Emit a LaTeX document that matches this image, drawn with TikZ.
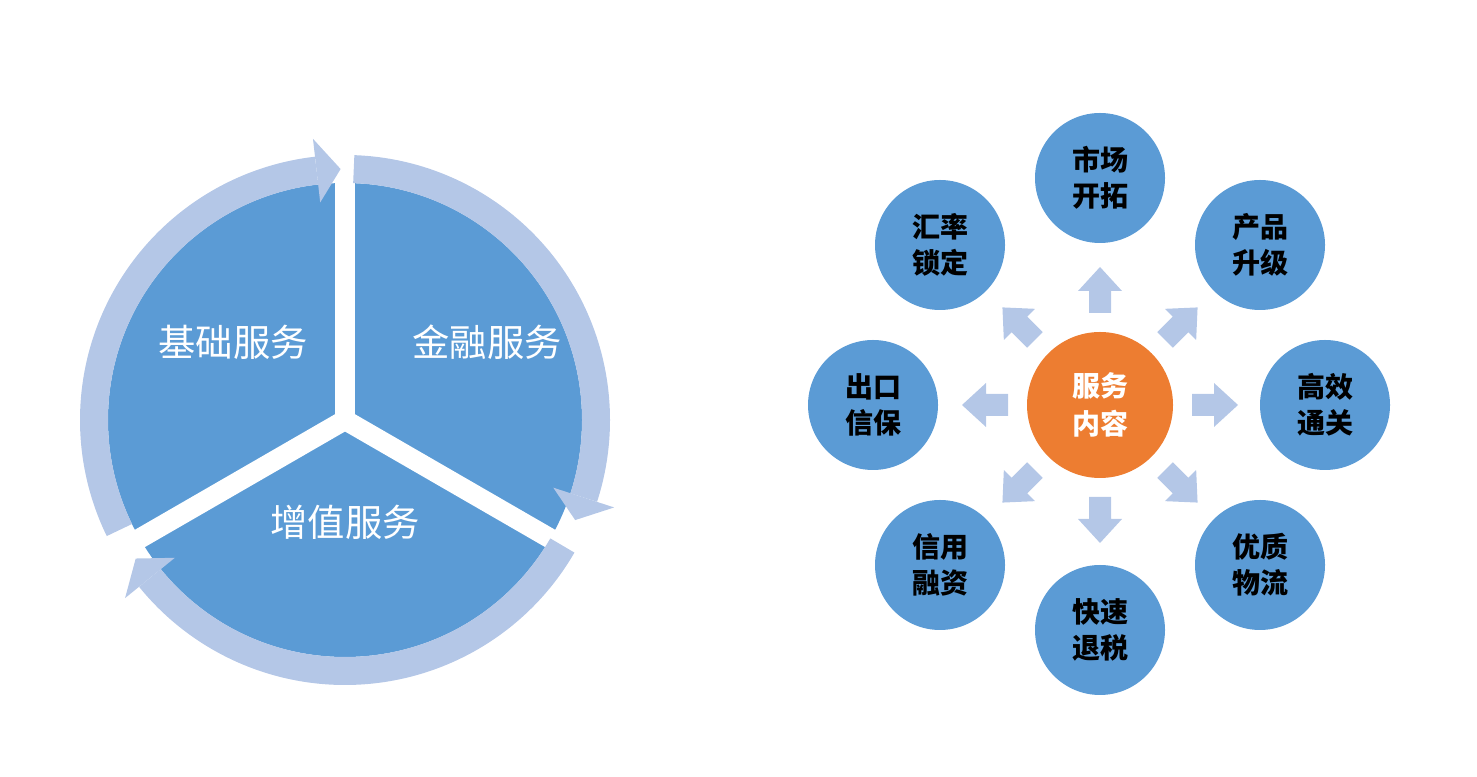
\documentclass[tikz,border=0pt]{standalone}
\usepackage{fontspec}
\setmainfont{Noto Sans CJK SC}
\definecolor{pieblue}{HTML}{5B9BD5}
\definecolor{ringc}{HTML}{B4C7E7}
\definecolor{orangec}{HTML}{ED7D31}
\tikzset{
 ring/.style={draw=ringc,line width=21pt},
 gapline/.style={draw=white,line width=15pt},
 pielabel/.style={text=white,font=\fontsize{28}{30}\selectfont},
 outer/.style={circle,fill=pieblue,minimum size=97.5pt,inner sep=0pt,align=center,font=\fontsize{21}{27}\selectfont\bfseries,text=black},
 centerc/.style={circle,fill=orangec,minimum size=109.5pt,inner sep=0pt,align=center,font=\fontsize{21}{28}\selectfont\bfseries,text=white},
 blockarrow/.style={fill=ringc}
}
\begin{document}
\begin{tikzpicture}[x=0.75pt,y=0.75pt]
\useasboundingbox (0,0) rectangle (1477,777);
% pie
\coordinate (pc) at (345,357);
\fill[pieblue] (pc) circle[radius=237];
\draw[gapline] (pc) -- ++(90:245);
\draw[gapline] (pc) -- ++(210:245);
\draw[gapline] (pc) -- ++(330:245);
% ring arcs
\draw[ring] ([shift={(345,357)}]206:251) arc[start angle=206,end angle=96.5,radius=251];
\fill[ringc] ([shift={(345,357)}]96.5:283) -- ([shift={(345,357)}]96.5:219) -- ([shift={(345,357)}]91:251) -- cycle;
\draw[ring] ([shift={(345,357)}]88:251) arc[start angle=88,end angle=-18,radius=251];
\fill[ringc] ([shift={(345,357)}]-18:283) -- ([shift={(345,357)}]-18:219) -- ([shift={(345,357)}]-23.5:251) -- cycle;
\draw[ring] ([shift={(345,357)}]-30:251) arc[start angle=-30,end angle=-141,radius=251];
\fill[ringc] ([shift={(345,357)}]-141:283) -- ([shift={(345,357)}]-141:219) -- ([shift={(345,357)}]-146.5:251) -- cycle;
\node[pielabel] (l1) at (233,435) {基础服务};
\node[pielabel] (l2) at (487,435) {金融服务};
\node[pielabel] (l3) at (345,255) {增值服务};
% right
\coordinate (rc) at (1100,372);
\foreach \a in {0,45,...,315}{
 \fill[blockarrow,shift={(1100,372)},rotate=\a] (92,-11) -- (114,-11) -- (114,-22) -- (138,0) -- (114,22) -- (114,11) -- (92,11) -- cycle;
}
\node[centerc] (c) at (rc) {服务\\内容};
\node[outer] (n1) at (1100,599) {市场\\开拓};
\node[outer] (n2) at (1260,532) {产品\\升级};
\node[outer] (n3) at (1325,372) {高效\\通关};
\node[outer] (n4) at (1260,212) {优质\\物流};
\node[outer] (n5) at (1100,147) {快速\\退税};
\node[outer] (n6) at (940,212) {信用\\融资};
\node[outer] (n7) at (873,372) {出口\\信保};
\node[outer] (n8) at (940,532) {汇率\\锁定};
\end{tikzpicture}
\end{document}
